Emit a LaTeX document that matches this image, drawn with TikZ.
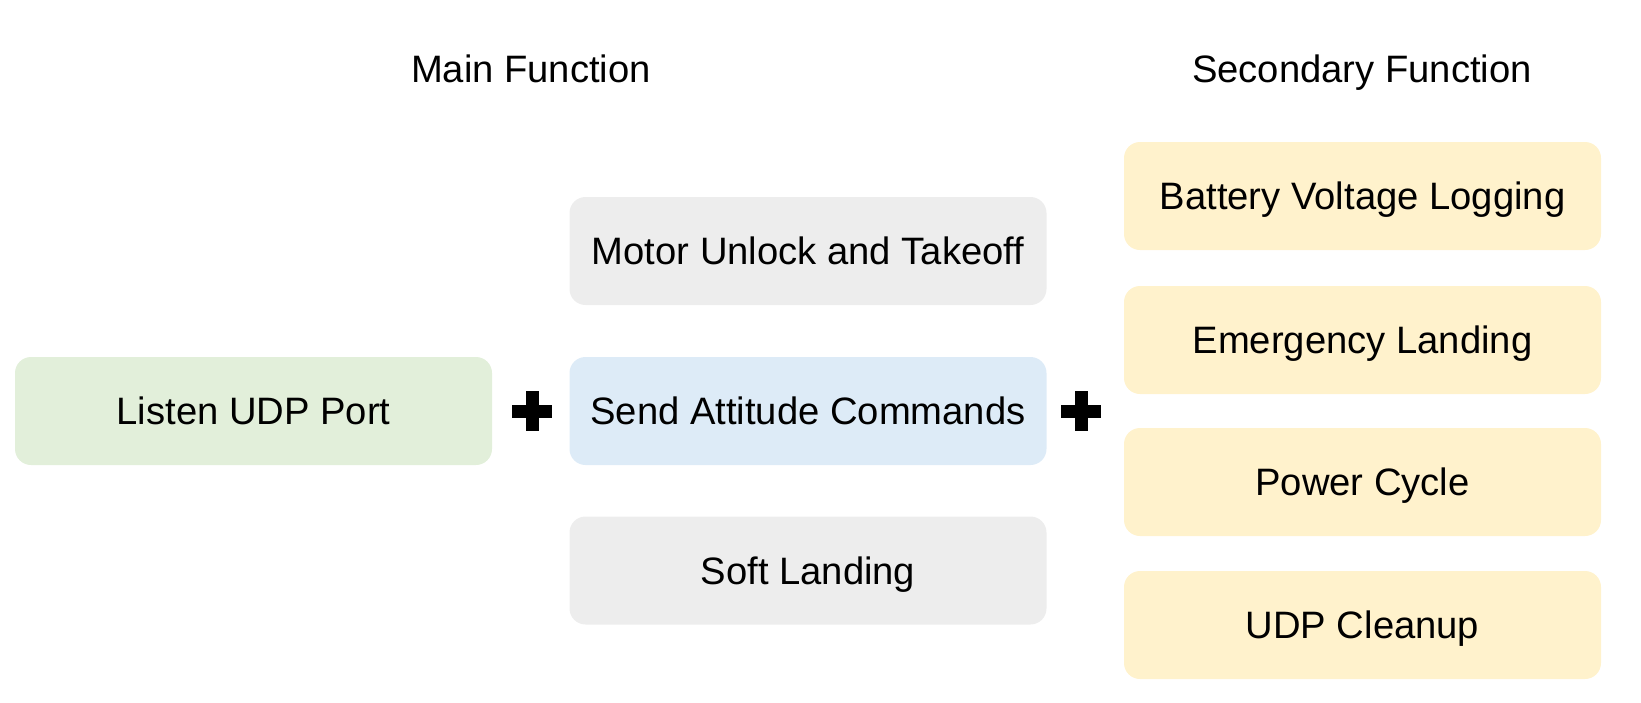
\documentclass[tikz,border=0pt]{standalone}
\usepackage{fontspec}
\setmainfont{Liberation Sans}
\definecolor{boxgreen}{HTML}{E2EFDA}
\definecolor{boxblue}{HTML}{DDEBF7}
\definecolor{boxgray}{HTML}{EDEDED}
\definecolor{boxyellow}{HTML}{FFF2CC}
\begin{document}
\begin{tikzpicture}[x=1pt,y=-1pt,
  fbox/.style={rounded corners=16pt, minimum width=477pt, minimum height=108pt,
    inner sep=0pt, align=center, font=\fontsize{38.2}{44}\selectfont,
    text height=27.2pt, text depth=0pt},
  greenbox/.style={fbox, fill=boxgreen},
  bluebox/.style={fbox, fill=boxblue},
  graybox/.style={fbox, fill=boxgray},
  yellowbox/.style={fbox, fill=boxyellow},
  header/.style={font=\fontsize{38.2}{44}\selectfont, inner sep=0pt,
    text height=27.2pt, text depth=0pt},
  plusnode/.style={minimum size=40pt, inner sep=0pt}
]
\useasboundingbox (0,0) rectangle (1641,702);

\node[header] (hmain) at (531,69) {Main Function};
\node[header] (hsec) at (1362,69) {Secondary Function};

\node[greenbox] (listen) at (253.5,411) {Listen UDP Port};

\node[graybox] (motor) at (808,251) {Motor Unlock and Takeoff};
\node[bluebox] (send) at (808,411) {Send Attitude Commands};
\node[graybox] (soft) at (808,570.5) {Soft Landing};

\node[yellowbox] (battery) at (1362.5,196) {Battery Voltage Logging};
\node[yellowbox] (emerg) at (1362.5,340) {Emergency Landing};
\node[yellowbox] (power) at (1362.5,482) {Power Cycle};
\node[yellowbox] (udpclean) at (1362.5,625) {UDP Cleanup};

\node[plusnode] (plus1) at (532,411) {};
\node[plusnode] (plus2) at (1081,411) {};
\foreach \p in {plus1,plus2}{
  \fill[black] ([xshift=-20pt,yshift=-6.5pt]\p.center) rectangle ([xshift=20pt,yshift=6.5pt]\p.center);
  \fill[black] ([xshift=-6.5pt,yshift=-20pt]\p.center) rectangle ([xshift=6.5pt,yshift=20pt]\p.center);
}
\end{tikzpicture}
\end{document}
